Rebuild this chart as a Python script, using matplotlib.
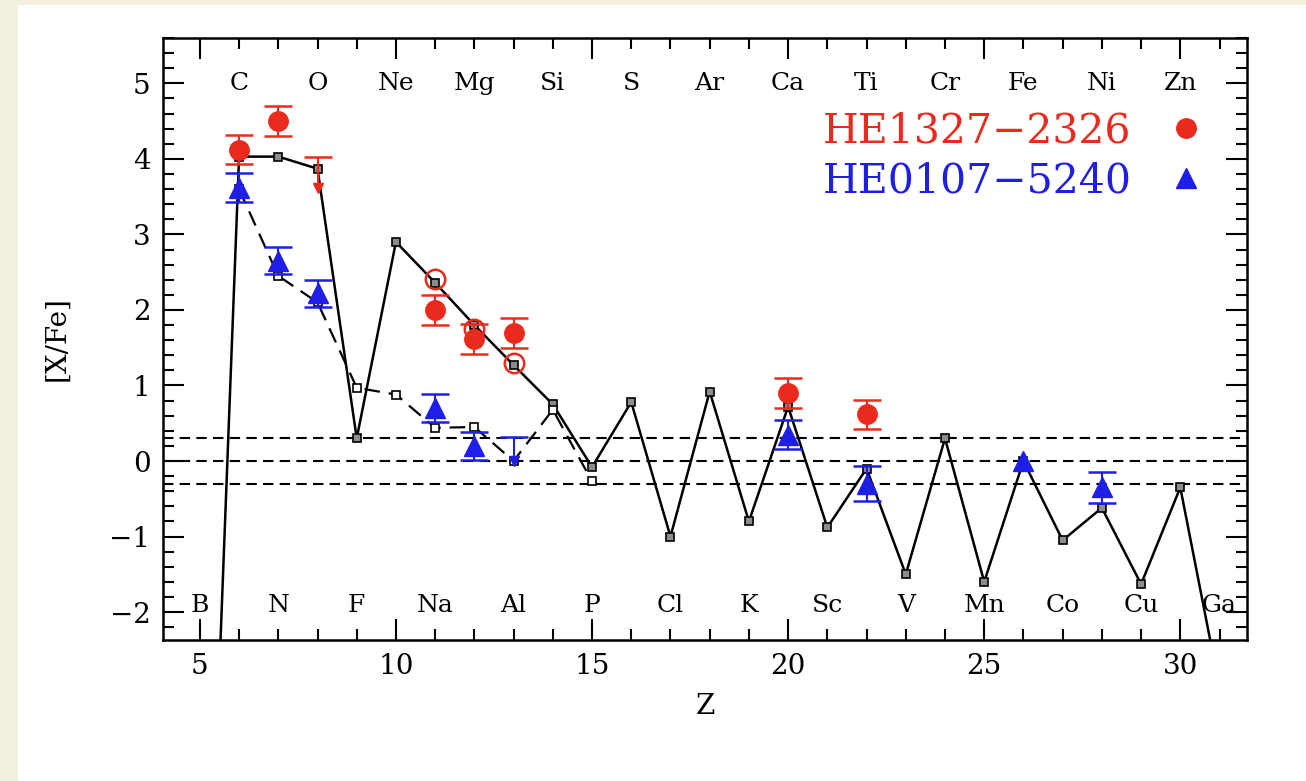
import numpy as np
import matplotlib
matplotlib.use('Agg')
from matplotlib import pyplot as plt
from matplotlib.lines import Line2D
from matplotlib.patches import Rectangle
from matplotlib.ticker import MultipleLocator

plt.rcParams['font.family'] = ['DejaVu Serif']

# element labels
top_z = [6, 8, 10, 12, 14, 16, 18, 20, 22, 24, 26, 28, 30]
top_el = ['C', 'O', 'Ne', 'Mg', 'Si', 'S', 'Ar', 'Ca', 'Ti', 'Cr', 'Fe', 'Ni', 'Zn']
bot_z = [5, 7, 9, 11, 13, 15, 17, 19, 21, 23, 25, 27, 29, 31]
bot_el = ['B', 'N', 'F', 'Na', 'Al', 'P', 'Cl', 'K', 'Sc', 'V', 'Mn', 'Co', 'Cu', 'Ga']

# model yields (solid) Z = 5..31
model_z = list(range(5, 32))
model_solid = [-9.5, 4.03, 4.03, 3.87, 0.30, 2.90, 2.36, 1.80, 1.27, 0.75, -0.08,
               0.78, -1.00, 0.92, -0.80, 0.72, -0.88, -0.10, -1.50, 0.30, -1.60,
               0.00, -1.05, -0.62, -1.63, -0.35, -3.0]

# model (dashed) Z = 6..15
dash_z = list(range(6, 16))
model_dash = [3.60, 2.45, 2.10, 0.97, 0.88, 0.44, 0.45, 0.00, 0.68, -0.27]

# HE1327-2326 (red)
he1327_z = [6, 7, 11, 12, 13, 20, 22]
he1327_y = [4.12, 4.50, 2.00, 1.62, 1.70, 0.90, 0.62]
he1327_err = [0.19, 0.20, 0.20, 0.20, 0.20, 0.20, 0.19]
he1327_open_z = [11, 12, 13]
he1327_open_y = [2.41, 1.75, 1.30]
he1327_lim_z = [8]
he1327_lim_top = [4.02]
he1327_lim_bot = [3.62]

# HE0107-5240 (blue)
he0107_z = [6, 7, 8, 11, 12, 20, 22, 28]
he0107_y = [3.62, 2.65, 2.22, 0.70, 0.20, 0.35, -0.30, -0.35]
he0107_err = [0.19, 0.18, 0.18, 0.19, 0.19, 0.19, 0.23, 0.20]
he0107_nerr_z = [26]
he0107_nerr_y = [0.0]
he0107_lim_z = [13]
he0107_lim_top = [0.32]
he0107_lim_bot = [0.0]

RED = '#ea2a1c'
BLUE = '#1e1ee6'

fig = plt.figure(figsize=(13.06, 7.81), dpi=100)
fig.patches.append(Rectangle((0, 0), 18 / 1306, 1, transform=fig.transFigure,
                             facecolor='#f2f0dc', edgecolor='none', zorder=-5))
fig.patches.append(Rectangle((0, 1 - 5 / 781), 1, 5 / 781, transform=fig.transFigure,
                             facecolor='#f2f0dc', edgecolor='none', zorder=-5))
ax = fig.add_axes([0.1248, 0.1805, 0.8300, 0.7708])

# reference lines
for yv in [-0.3, 0.0, 0.3]:
    ax.axhline(yv, color='black', lw=1.5, ls=(0, (5, 3)), zorder=1)

# models
ax.plot(model_z, model_solid, color='black', lw=1.8, marker='s', ms=5.5,
        mfc='0.55', mec='black', mew=1.2, zorder=2)
ax.plot(dash_z, model_dash, color='black', lw=1.6, ls=(0, (7, 4)), marker='s', ms=5.5,
        mfc='white', mec='black', mew=1.2, zorder=2)


def upper_limit(z, top, bot, color):
    ax.vlines(z, bot, top, color=color, lw=1.5, zorder=4)
    ax.plot(z, top, ls='none', marker='_', ms=20, mew=1.8, color=color, zorder=4)
    ax.plot(z, bot, ls='none', marker='v', ms=7, color=color, zorder=4)


# HE1327-2326
ax.errorbar(he1327_z, he1327_y, yerr=he1327_err, fmt='o', color=RED, ms=14,
            ecolor=RED, elinewidth=1.5, capsize=10, capthick=1.8, zorder=5)
ax.plot(he1327_open_z, he1327_open_y, ls='none', marker='o', ms=14, mfc='none',
        mec=RED, mew=1.8, zorder=5)
upper_limit(he1327_lim_z, he1327_lim_top, he1327_lim_bot, RED)

# HE0107-5240
ax.errorbar(he0107_z, he0107_y, yerr=he0107_err, fmt='^', color=BLUE, ms=14,
            ecolor=BLUE, elinewidth=1.5, capsize=10, capthick=1.8, zorder=5)
ax.plot(he0107_nerr_z, he0107_nerr_y, ls='none', marker='^', ms=14, color=BLUE, zorder=5)
upper_limit(he0107_lim_z, he0107_lim_top, he0107_lim_bot, BLUE)

# element names
for z, el in zip(top_z, top_el):
    ax.text(z, 5.0, el, ha='center', va='center', fontsize=18, zorder=6)
for z, el in zip(bot_z, bot_el):
    ax.text(z, -1.91, el, ha='center', va='center', fontsize=18, zorder=6)

ax.set_xlim(4.06, 31.7)
ax.set_ylim(-2.37, 5.6)
ax.xaxis.set_major_locator(MultipleLocator(5))
ax.xaxis.set_minor_locator(MultipleLocator(1))
ax.yaxis.set_major_locator(MultipleLocator(1))
ax.yaxis.set_minor_locator(MultipleLocator(0.2))
ax.tick_params(which='both', direction='in', top=True, right=True, width=1.5)
ax.tick_params(which='major', length=15, labelsize=20, pad=9)
ax.tick_params(which='minor', length=8)
for sp in ax.spines.values():
    sp.set_linewidth(1.8)
ax.set_yticks([-2, -1, 0, 1, 2, 3, 4, 5])
ax.set_yticklabels(['\u22122', '\u22121', '0', '1', '2', '3', '4', '5'])

ax.set_xlabel('Z', fontsize=20, labelpad=10)
ax.set_ylabel('[X/Fe]', fontsize=20, labelpad=28)

handles = [Line2D([], [], ls='none', marker='o', ms=14, color=RED),
           Line2D([], [], ls='none', marker='^', ms=14, color=BLUE)]
ax.legend(handles, ['HE1327\u22122326', 'HE0107\u22125240'], loc='upper right',
          bbox_to_anchor=(1.0, 0.94), markerfirst=False, frameon=False,
          fontsize=29.5, labelcolor=[RED, BLUE], handletextpad=0.72,
          handlelength=1.2, labelspacing=0.25)

fig.savefig('out.png', dpi=100)
